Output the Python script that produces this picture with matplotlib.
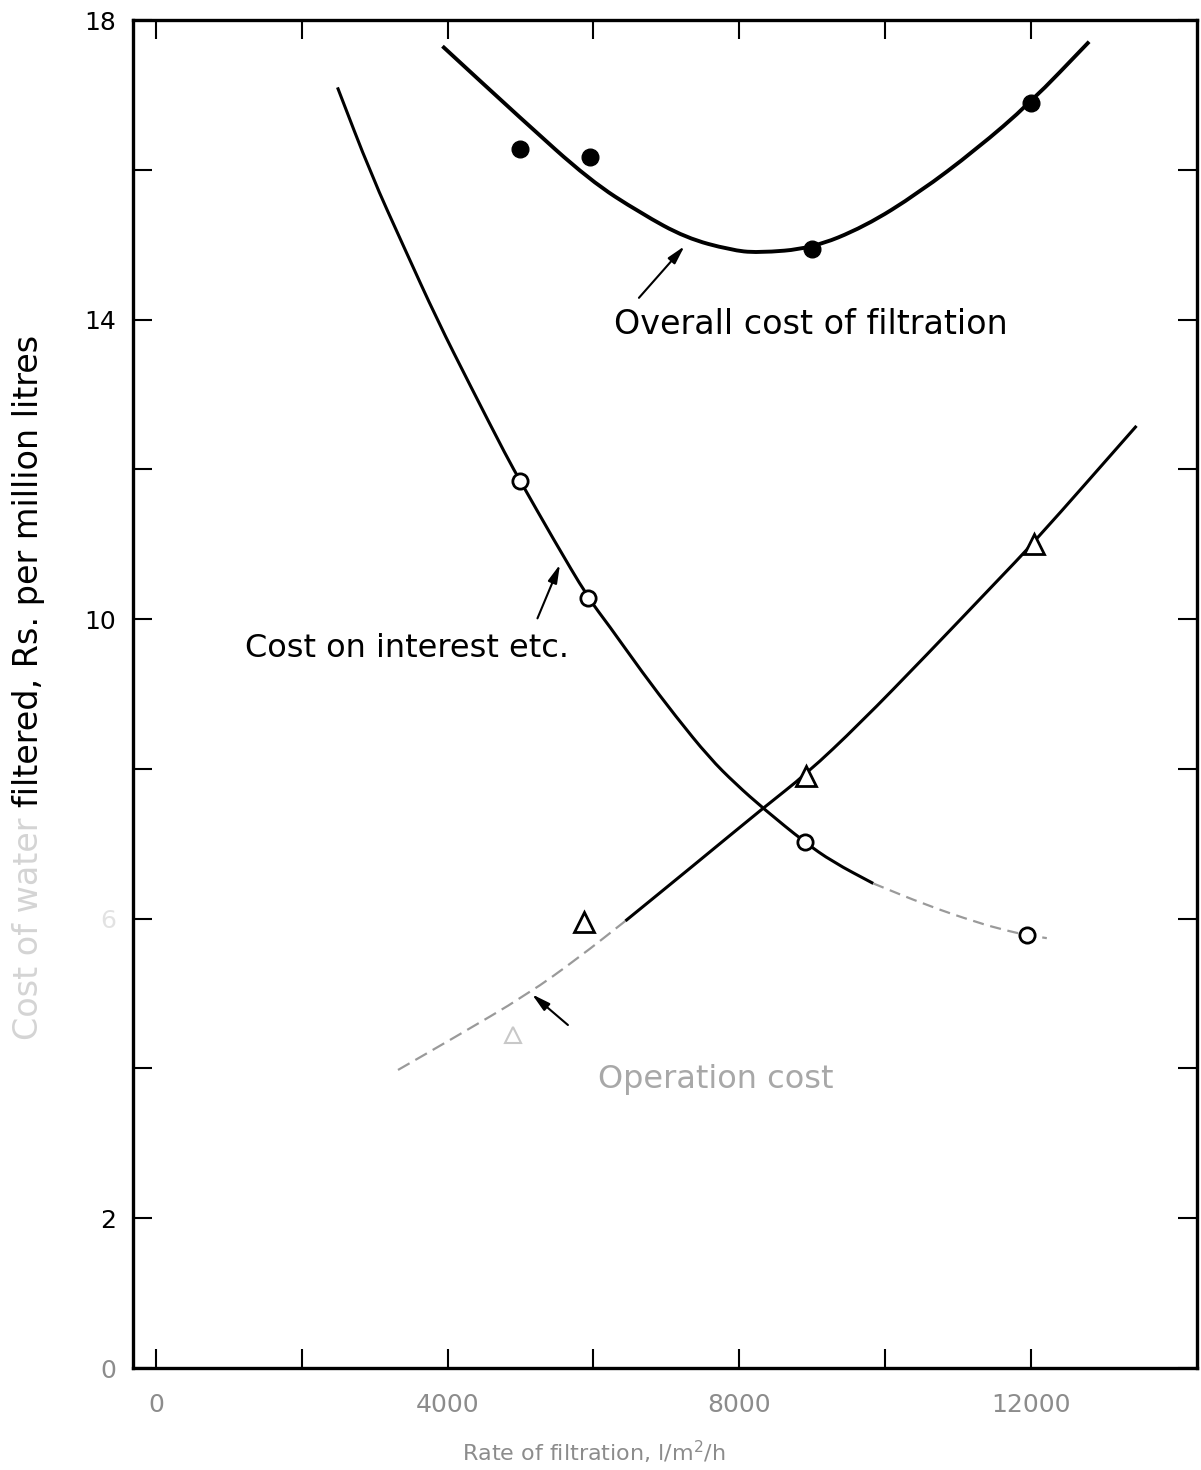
import numpy as np
import matplotlib.pyplot as plt
from matplotlib.path import Path
from matplotlib.patches import PathPatch

# rate of filtration (l/m2/h) against cost (Rs. per million litres)
overall_x = [5000, 5950, 9000, 12000]
overall_y = [16.28, 16.17, 14.94, 16.89]
interest_x = [5000, 5930, 8900, 11950]
interest_y = [11.84, 10.28, 7.02, 5.78]
operation_x = [4900, 5870, 8920, 12040]
operation_y = [4.45, 5.95, 7.90, 11.00]

# smooth curves drawn through the points
overall_curve_x = [3930, 5000, 5950, 6650, 7270, 7880, 8250, 8990, 9720,
                   10460, 11250, 11990, 12800]
overall_curve_y = [17.65, 16.69, 15.86, 15.42, 15.09, 14.93, 14.89, 14.95,
                   15.24, 15.69, 16.27, 16.89, 17.71]
interest_curve_x = [2490, 2950, 3400, 3860, 4310, 4820, 5000, 5450, 5930,
                    6210, 6670, 7130, 7590, 7950, 8345, 8900, 9280, 9840,
                    10570, 11260, 11670, 11950, 12220]
interest_curve_y = [17.10, 15.94, 14.97, 13.99, 13.12, 12.15, 11.84, 11.07,
                    10.28, 9.92, 9.29, 8.70, 8.15, 7.80, 7.46, 7.02, 6.76,
                    6.47, 6.18, 5.95, 5.84, 5.78, 5.74]
operation_curve_x = [3320, 4070, 5100, 5800, 6440, 7360, 8345, 8920, 9650,
                     10570, 11530, 12040, 13450]
operation_curve_y = [3.98, 4.40, 4.99, 5.48, 5.97, 6.70, 7.49, 7.93, 8.60,
                     9.52, 10.50, 11.02, 12.58]

x_ticks = [0, 2000, 4000, 6000, 8000, 10000, 12000]
x_labels = ['0', '', '4000', '', '8000', '', '12000']
y_ticks = [0, 2, 4, 6, 8, 10, 12, 14, 16, 18]
y_labels = ['0', '2', '', '6', '', '10', '', '14', '', '18']

FADED = '#9a9a9a'
FS = 23

fig = plt.figure(figsize=(12.01, 14.70), dpi=100)
ax = fig.add_axes([133 / 1201, 102 / 1470, 1064 / 1201, 1348 / 1470])


def smooth_path(xs, ys):
    # quadratic bezier through the midpoints, the read points act as controls
    pts = np.column_stack([xs, ys]).astype(float)
    verts = [pts[0], (pts[0] + pts[1]) / 2]
    codes = [Path.MOVETO, Path.LINETO]
    for i in range(1, len(pts) - 1):
        verts += [pts[i], (pts[i] + pts[i + 1]) / 2]
        codes += [Path.CURVE3, Path.CURVE3]
    verts.append(pts[-1])
    codes.append(Path.LINETO)
    return Path(verts, codes)


def draw_curve(xs, ys, x_from=None, x_to=None, **kw):
    xs = np.asarray(xs)
    ys = np.asarray(ys)
    lo = -np.inf if x_from is None else x_from
    hi = np.inf if x_to is None else x_to
    m = (xs >= lo) & (xs <= hi)
    ax.add_patch(PathPatch(smooth_path(xs[m], ys[m]), fill=False,
                           capstyle='butt', **kw))


# overall cost
draw_curve(overall_curve_x, overall_curve_y, ec='k', lw=2.8)
ax.plot(overall_x, overall_y, 'o', color='k', ms=12)

# cost on interest, the tail is faded out
draw_curve(interest_curve_x, interest_curve_y, x_to=9840, ec='k', lw=2.2)
draw_curve(interest_curve_x, interest_curve_y, x_from=9840, ec=FADED,
           lw=1.6, ls=(0, (5, 3)))
ax.plot(interest_x, interest_y, 'o', mfc='white', mec='k', mew=2, ms=11)

# operation cost, the lower part is faded out
draw_curve(operation_curve_x, operation_curve_y, x_to=6440, ec=FADED,
           lw=1.6, ls=(0, (6, 3)))
draw_curve(operation_curve_x, operation_curve_y, x_from=6440, ec='k', lw=2.2)
ax.plot(operation_x[1:], operation_y[1:], '^', mfc='white', mec='k',
        mew=2, ms=14)
ax.plot(operation_x[:1], operation_y[:1], '^', mfc='white', mec='#c8c8c8',
        mew=1.5, ms=12)

# labels with arrows
arrow = dict(arrowstyle='-|>,head_length=1.1,head_width=0.28', color='k',
             lw=1.5, shrinkA=0, shrinkB=0)
ax.annotate('', xy=(7250, 14.98), xytext=(6625, 14.29), arrowprops=arrow)
ax.text(6283, 13.93, 'Overall cost of filtration', fontsize=FS + 1,
        ha='left', va='center')
ax.annotate('', xy=(5542, 10.73), xytext=(5233, 10.01), arrowprops=arrow)
ax.text(1221, 9.61, 'Cost on interest etc.', fontsize=FS,
        ha='left', va='center')
ax.annotate('', xy=(5158, 4.99), xytext=(5651, 4.58), arrowprops=arrow)
ax.text(6063, 3.85, 'Operation cost', fontsize=FS, color='#a8a8a8',
        ha='left', va='center')

ax.set_xlim(-315, 14280)
ax.set_ylim(0, 18)
ax.set_xticks(x_ticks, x_labels)
ax.set_yticks(y_ticks, y_labels)
ax.tick_params(direction='in', length=14, width=1.5, top=True, right=True,
               labelsize=18)
ax.tick_params(axis='x', pad=18, labelcolor='#8c8c8c')
ax.tick_params(axis='y', pad=12)
for lab in ax.get_yticklabels():
    if lab.get_text() == '6':
        lab.set_color('#e2e2e2')
    elif lab.get_text() == '0':
        lab.set_color('#8c8c8c')
for side in ['left', 'right', 'top', 'bottom']:
    ax.spines[side].set_linewidth(2.4)

# axis titles, partly faded on the printed page
fig.text(462 / 1201, 1 - 1452 / 1470, 'Rate of filtration, l/m$^2$/h',
         fontsize=16, color='#8c8c8c', ha='left', va='center')
fig.text(29 / 1201, 1 - 335 / 1470, 'filtered, Rs. per million litres',
         fontsize=FS + 1, rotation=90, ha='center', va='top')
fig.text(29 / 1201, 1 - 818 / 1470, 'Cost of water',
         fontsize=FS + 1, rotation=90, ha='center', va='top', color='#d4d4d4')

fig.savefig('out.png', dpi=100)
